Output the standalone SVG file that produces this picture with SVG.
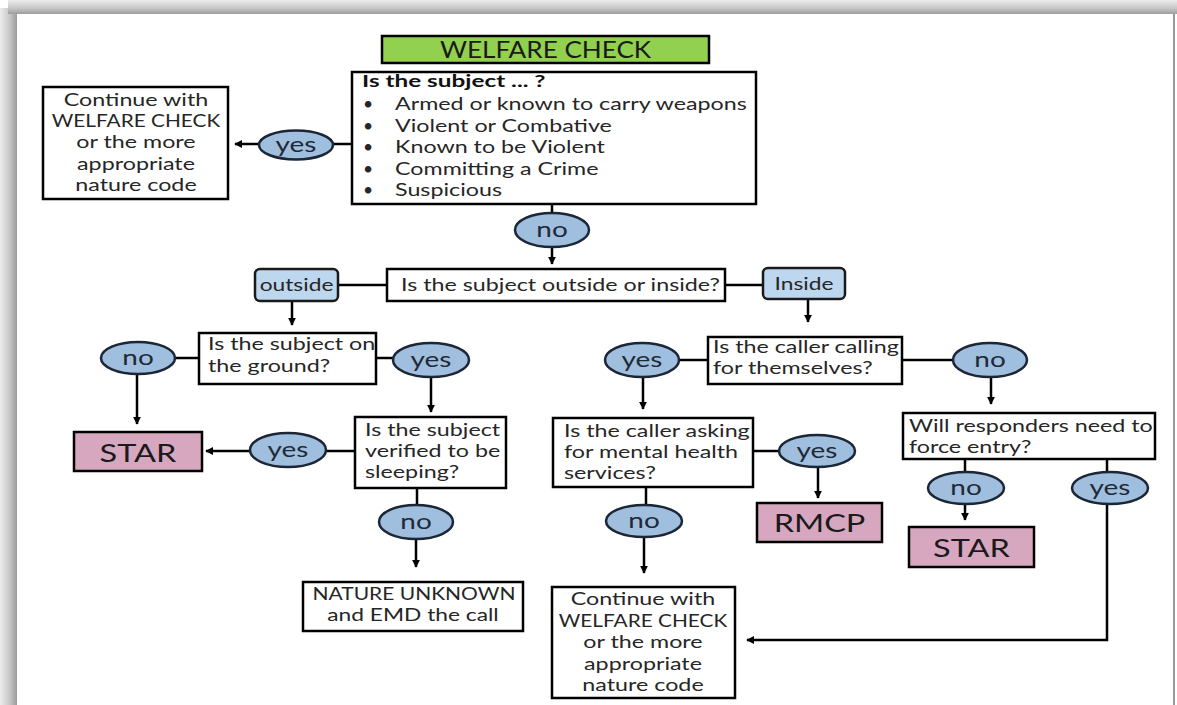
<svg xmlns="http://www.w3.org/2000/svg" width="1177" height="705" viewBox="0 0 1177 705">
  <defs>
    <linearGradient id="edgeLeft" x1="0" y1="0" x2="1" y2="0">
      <stop offset="0" stop-color="#ececec"/>
      <stop offset="0.6" stop-color="#c4c4c4"/>
      <stop offset="1" stop-color="#9a9a9a"/>
    </linearGradient>
    <linearGradient id="edgeTop" x1="0" y1="0" x2="0" y2="1">
      <stop offset="0" stop-color="#ededed"/>
      <stop offset="0.6" stop-color="#c6c6c6"/>
      <stop offset="1" stop-color="#9c9c9c"/>
    </linearGradient>
    <marker id="arrow" viewBox="0 0 10 10" refX="9" refY="5" markerWidth="8" markerHeight="8" markerUnits="userSpaceOnUse" orient="auto">
      <path d="M0,0 L10,5 L0,10 z" fill="#000"/>
    </marker>
    <style>
      .box { fill: #fff; stroke: #000; stroke-width: 2.5; }
      .pill { fill: #bdd7ee; stroke: #1a1a1a; stroke-width: 2.5; }
      .oval { fill: #a0bedd; stroke: #1b2636; stroke-width: 2.5; }
      .pink { fill: #d7a7bf; stroke: #000; stroke-width: 2.5; }
      .green { fill: #92d050; stroke: #000; stroke-width: 2.5; }
      .conn line, .conn path { stroke: #000; stroke-width: 2.5; fill: none; }
      .arr { marker-end: url(#arrow); }
      text { font-family: Lato, "Open Sans", "Liberation Sans", sans-serif; fill: #262626; }
      .t { font-size: 17.5px; }
      .hd { font-size: 17.5px; font-weight: bold; fill: #111; }
      .lbl { font-size: 21.5px; text-anchor: middle; fill: #1e2a38; }
      .big { font-size: 25px; text-anchor: middle; fill: #1a1a1a; }
      .ttl { font-size: 22.5px; text-anchor: middle; fill: #1a1a1a; }
      .mid { text-anchor: middle; }
    </style>
  </defs>

  <!-- page and its shaded edge -->
  <rect x="0" y="0" width="1177" height="705" fill="#fff"/>
  <rect x="0" y="8" width="17" height="697" fill="url(#edgeLeft)"/>
  <rect x="8" y="0" width="1169" height="14" fill="url(#edgeTop)"/>
  <line x1="1174" y1="14" x2="1174" y2="705" stroke="#9a9a9a" stroke-width="2"/>

  <!-- connectors -->
  <g id="connectors" class="conn">
    <line x1="352" y1="144" x2="333" y2="144"/>
    <line class="arr" x1="259" y1="144" x2="235" y2="144"/>
    <line x1="552" y1="204" x2="552" y2="213"/>
    <line class="arr" x1="552" y1="247" x2="552" y2="264"/>
    <line x1="338" y1="285" x2="387" y2="285"/>
    <line x1="725" y1="285" x2="763" y2="285"/>
    <line class="arr" x1="292" y1="301" x2="292" y2="325"/>
    <line class="arr" x1="808" y1="299" x2="808" y2="322"/>
    <line x1="199" y1="358" x2="175" y2="358"/>
    <line x1="376" y1="358" x2="393" y2="358"/>
    <line class="arr" x1="137" y1="374" x2="137" y2="424"/>
    <line class="arr" x1="431" y1="377" x2="431" y2="412"/>
    <line x1="355" y1="451" x2="326" y2="451"/>
    <line class="arr" x1="250" y1="451" x2="206" y2="451"/>
    <line x1="417" y1="488" x2="417" y2="505"/>
    <line class="arr" x1="416" y1="539" x2="416" y2="567"/>
    <line x1="708" y1="360" x2="679" y2="360"/>
    <line x1="902" y1="360" x2="953" y2="360"/>
    <line class="arr" x1="643" y1="377" x2="643" y2="409"/>
    <line class="arr" x1="991" y1="377" x2="991" y2="404"/>
    <line x1="753" y1="451" x2="779" y2="451"/>
    <line class="arr" x1="818" y1="467" x2="818" y2="498"/>
    <line x1="646" y1="487" x2="646" y2="505"/>
    <line class="arr" x1="644" y1="537" x2="644" y2="573"/>
    <line x1="965" y1="459" x2="965" y2="472"/>
    <line class="arr" x1="965" y1="504" x2="965" y2="520"/>
    <line x1="1107" y1="459" x2="1107" y2="472"/>
    <path class="arr" d="M1107,504 V640 H747"/>
  </g>

  <!-- title -->
  <g id="title">
    <rect class="green" x="382" y="36" width="327" height="27"/>
    <text class="ttl" transform="translate(545.5 58) scale(1.16 1)">WELFARE CHECK</text>
  </g>

  <!-- first question -->
  <g id="q-armed">
    <rect class="box" x="352" y="72" width="404" height="132"/>
    <text class="hd" transform="translate(362 87) scale(1.39 1)">Is the subject ... ?</text>
    <text class="t" x="363" y="110">•</text>
    <text class="t" x="363" y="132">•</text>
    <text class="t" x="363" y="153">•</text>
    <text class="t" x="363" y="175">•</text>
    <text class="t" x="363" y="196">•</text>
    <text class="t" transform="translate(395 110) scale(1.33 1)">Armed or known to carry weapons</text>
    <text class="t" transform="translate(395 132) scale(1.33 1)">Violent or Combative</text>
    <text class="t" transform="translate(395 153) scale(1.33 1)">Known to be Violent</text>
    <text class="t" transform="translate(395 175) scale(1.33 1)">Committing a Crime</text>
    <text class="t" transform="translate(395 196) scale(1.33 1)">Suspicious</text>
  </g>

  <g id="yes-armed">
    <ellipse class="oval" cx="296" cy="145" rx="37" ry="14.5"/>
    <text class="lbl" transform="translate(296 152) scale(1.3 1)">yes</text>
  </g>

  <g id="continue-top">
    <rect class="box" x="43" y="87" width="185" height="112"/>
    <text class="t mid" transform="translate(136 106) scale(1.33 1)">Continue with</text>
    <text class="t mid" transform="translate(136 127) scale(1.19 1)">WELFARE CHECK</text>
    <text class="t mid" transform="translate(136 148) scale(1.33 1)">or the more</text>
    <text class="t mid" transform="translate(136 170) scale(1.33 1)">appropriate</text>
    <text class="t mid" transform="translate(136 191) scale(1.33 1)">nature code</text>
  </g>

  <g id="no-armed">
    <ellipse class="oval" cx="552" cy="230" rx="37" ry="17"/>
    <text class="lbl" transform="translate(552 237) scale(1.3 1)">no</text>
  </g>

  <!-- location question -->
  <g id="q-location">
    <rect class="box" x="387" y="269" width="338" height="32"/>
    <text class="t" transform="translate(401 291) scale(1.33 1)">Is the subject outside or inside?</text>
  </g>
  <g id="outside">
    <rect class="pill" x="255" y="269" width="83" height="32" rx="5"/>
    <text class="t mid" transform="translate(296.5 291) scale(1.3 1)">outside</text>
  </g>
  <g id="inside">
    <rect class="pill" x="763" y="268" width="82" height="31" rx="5"/>
    <text class="t mid" transform="translate(804 290) scale(1.3 1)">Inside</text>
  </g>

  <!-- outside branch -->
  <g id="q-ground">
    <rect class="box" x="199" y="333" width="177" height="51"/>
    <text class="t" transform="translate(208 350) scale(1.33 1)"><tspan x="0">Is the subject on</tspan><tspan x="0" dy="22">the ground?</tspan></text>
  </g>
  <g id="no-ground">
    <ellipse class="oval" cx="138" cy="358" rx="37" ry="16"/>
    <text class="lbl" transform="translate(138 365) scale(1.3 1)">no</text>
  </g>
  <g id="yes-ground">
    <ellipse class="oval" cx="431" cy="360" rx="38" ry="17"/>
    <text class="lbl" transform="translate(431 367) scale(1.3 1)">yes</text>
  </g>
  <g id="star-left">
    <rect class="pink" x="74" y="432" width="128" height="39"/>
    <text class="big" transform="translate(138 462) scale(1.3 1)">STAR</text>
  </g>
  <g id="q-sleeping">
    <rect class="box" x="355" y="417" width="151" height="71"/>
    <text class="t" transform="translate(365 436) scale(1.33 1)"><tspan x="0">Is the subject</tspan><tspan x="0" dy="21">verified to be</tspan><tspan x="0" dy="21">sleeping?</tspan></text>
  </g>
  <g id="yes-sleeping">
    <ellipse class="oval" cx="288" cy="450" rx="38" ry="17"/>
    <text class="lbl" transform="translate(288 457) scale(1.3 1)">yes</text>
  </g>
  <g id="no-sleeping">
    <ellipse class="oval" cx="416" cy="522" rx="37" ry="17"/>
    <text class="lbl" transform="translate(416 529) scale(1.3 1)">no</text>
  </g>
  <g id="nature-unknown">
    <rect class="box" x="303" y="582" width="220" height="49"/>
    <text class="t mid" transform="translate(414 600) scale(1.2 1)">NATURE UNKNOWN</text>
    <text class="t mid" transform="translate(413 621) scale(1.3 1)">and EMD the call</text>
  </g>

  <!-- inside branch -->
  <g id="q-caller">
    <rect class="box" x="708" y="337" width="194" height="47"/>
    <text class="t" transform="translate(713 353) scale(1.33 1)"><tspan x="0">Is the caller calling</tspan><tspan x="0" dy="21">for themselves?</tspan></text>
  </g>
  <g id="yes-caller">
    <ellipse class="oval" cx="642" cy="360" rx="37" ry="17"/>
    <text class="lbl" transform="translate(642 367) scale(1.3 1)">yes</text>
  </g>
  <g id="no-caller">
    <ellipse class="oval" cx="990" cy="360" rx="37" ry="17"/>
    <text class="lbl" transform="translate(990 367) scale(1.3 1)">no</text>
  </g>
  <g id="q-mental">
    <rect class="box" x="553" y="418" width="200" height="69"/>
    <text class="t" transform="translate(564 437) scale(1.33 1)"><tspan x="0">Is the caller asking</tspan><tspan x="0" dy="21">for mental health</tspan><tspan x="0" dy="21">services?</tspan></text>
  </g>
  <g id="yes-mental">
    <ellipse class="oval" cx="817" cy="451" rx="38" ry="16"/>
    <text class="lbl" transform="translate(817 458) scale(1.3 1)">yes</text>
  </g>
  <g id="rmcp">
    <rect class="pink" x="757" y="503" width="125" height="39"/>
    <text class="big" transform="translate(819.5 532) scale(1.3 1)">RMCP</text>
  </g>
  <g id="no-mental">
    <ellipse class="oval" cx="644" cy="521" rx="38" ry="16"/>
    <text class="lbl" transform="translate(644 528) scale(1.3 1)">no</text>
  </g>
  <g id="continue-bottom">
    <rect class="box" x="552" y="587" width="183" height="111"/>
    <text class="t mid" transform="translate(643 605) scale(1.33 1)">Continue with</text>
    <text class="t mid" transform="translate(643 627) scale(1.19 1)">WELFARE CHECK</text>
    <text class="t mid" transform="translate(643 648) scale(1.33 1)">or the more</text>
    <text class="t mid" transform="translate(643 670) scale(1.33 1)">appropriate</text>
    <text class="t mid" transform="translate(643 691) scale(1.33 1)">nature code</text>
  </g>
  <g id="q-force">
    <rect class="box" x="903" y="413" width="252" height="46"/>
    <text class="t" transform="translate(909 432) scale(1.33 1)"><tspan x="0">Will responders need to</tspan><tspan x="0" dy="21">force entry?</tspan></text>
  </g>
  <g id="no-force">
    <ellipse class="oval" cx="966" cy="488" rx="38" ry="16"/>
    <text class="lbl" transform="translate(966 495) scale(1.3 1)">no</text>
  </g>
  <g id="yes-force">
    <ellipse class="oval" cx="1110" cy="488" rx="38" ry="16"/>
    <text class="lbl" transform="translate(1110 495) scale(1.3 1)">yes</text>
  </g>
  <g id="star-right">
    <rect class="pink" x="909" y="527" width="125" height="40"/>
    <text class="big" transform="translate(971.5 557) scale(1.3 1)">STAR</text>
  </g>
</svg>
